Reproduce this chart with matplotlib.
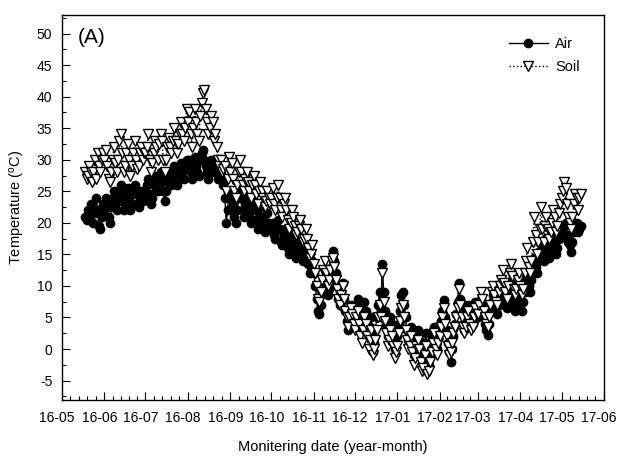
import matplotlib
matplotlib.use("Agg")
import matplotlib.pyplot as plt
import matplotlib.dates as mdates
import matplotlib.transforms as mtransforms
import numpy as np
import pandas as pd

plt.rcParams["font.family"] = ["Liberation Sans", "DejaVu Sans"]
plt.rcParams["mathtext.fontset"] = "custom"
plt.rcParams["mathtext.rm"] = "Liberation Sans"
plt.rcParams["axes.unicode_minus"] = False

start_date = "2016-05-18"

# daily means, month by month
air_may16 = [21, 20.5, 22, 21, 23, 22, 20, 21.5, 24, 22, 19.5, 19, 21, 23]
soil_may16 = [28, 27, 27.5, 29, 28, 26.5, 28, 30, 27, 31, 29, 28, 30, 31]
air_jun = [22, 24, 23, 21, 20, 22.5, 24, 25, 23, 22, 23.5, 25, 26, 24, 22,
           23, 24.5, 25.5, 24, 22, 23, 25, 26, 24.5, 23, 22.5, 24, 25, 23.5, 24]
soil_jun = [30, 31.5, 29, 27, 26.5, 28, 30, 32, 29.5, 28, 30, 33, 34, 31, 28,
            29, 31, 32.5, 30, 27.5, 29, 31, 33, 30, 28.5, 29, 31, 32, 30, 31]
air_jul = [25, 26, 27, 24.5, 23, 24, 26, 27.5, 26, 25, 27, 28, 26.5, 25, 23.5,
           25, 27, 28, 27, 26, 28, 29, 27.5, 26, 27, 28.5, 29.5, 28, 27, 29, 30]
soil_jul = [31, 32, 34, 30, 28, 29.5, 31, 33, 32, 30, 32.5, 34, 33, 30, 28,
            30, 32, 33.5, 32, 31, 33, 35, 33, 31, 32.5, 34, 36, 34, 33, 35, 38]
air_aug = [29, 30, 28, 27, 29.5, 30.5, 29, 28, 27.5, 30, 31, 31.5, 30, 29, 28,
           27, 28.5, 30, 29, 28, 29, 28.5, 27, 28, 29, 27.5, 26, 24, 20, 22, 25]
soil_aug = [36, 37.5, 34, 32, 35, 38, 36, 34, 33, 37, 39, 40.5, 41, 38, 36,
            34, 35, 37, 36, 33, 34, 32, 30, 29, 30, 28, 28.5, 29, 25, 27, 30.5]
air_sep = [24, 25, 23, 21, 20, 22, 24, 25.5, 24, 22, 21, 23, 24, 22.5, 21,
           20, 22, 23.5, 22, 20.5, 19, 21, 22.5, 21, 20, 18.5, 20, 21.5, 20, 19]
soil_sep = [28, 29.5, 27, 25, 24, 26, 28, 30, 28, 26, 25, 27, 28, 26.5, 25,
            24, 26, 27.5, 26, 24.5, 23, 25, 26.5, 25, 24, 22.5, 23.5, 25, 24, 23]
air_oct = [19, 20, 18, 17.5, 19, 20.5, 19, 17, 16.5, 18, 19, 17.5, 16, 15, 16.5,
           18, 17, 15.5, 14.5, 15, 16, 17, 15.5, 14, 15, 16.5, 15, 13.5, 12, 13, 14]
soil_oct = [24, 25.5, 23, 22, 24, 26, 24, 22, 21, 23, 24, 22, 20.5, 19, 20,
            22, 21, 19.5, 18, 18.5, 19.5, 20.5, 19, 17, 17.5, 19, 17.5, 16, 14.5, 15, 16.5]
air_nov = [12, 10, 8, 6, 5.5, 7, 9, 11, 12.5, 10, 8.5, 9.5, 11, 13, 15.5,
           14, 12, 10, 8, 7, 9, 10.5, 8, 6, 4.5, 3, 5, 7, 6, 4]
soil_nov = [13.5, 12, 10, 8, 7.5, 9, 11, 12.5, 14, 12, 10, 11, 12.5, 14, 14.5,
            13, 11, 9.5, 8, 7, 8.5, 10, 8, 6, 5, 3.5, 5, 6.5, 5.5, 4]
air_dec = [5, 7, 8, 6, 4, 3, 5, 7.5, 6, 4, 2, 3.5, 5, -0.5, 1,
           3, 5, 7, 9, 6, 13.5, 9, 6, 4, 2, 3, 5, 4, 2, 0, 1]
soil_dec = [3, 5, 6, 4, 2, 1, 3, 5, 4, 2, 0, 1.5, 3, -1, 0,
            1.5, 3, 5, 7, 5, 12, 7.5, 4.5, 2.5, 0.5, 1.5, 3, 2, 0.5, -1.5, -0.5]
air_jan = [2, 4, 6, 8.5, 9, 7, 5, 3, 1.5, 2, 3.5, 1, -1, 0, 2,
           3, 1.5, -0.5, -2, -1, 1, 2.5, -3.5, -2.5, -1, 0.5, 2, 3.5, 1, 0, 2]
soil_jan = [0.5, 2.5, 4.5, 6.5, 7, 5, 3, 1.5, 0, 0.5, 2, -0.5, -2.5, -1.5, 0.5,
            1.5, 0, -2, -3.5, -3, -1, 0.5, -4, -3.5, -2, -0.5, 1, 2.5, 0, -1, 1]
air_feb = [3, 4.5, 6, 7.8, 5, 3, 1, -0.5, -2, 0, 2, 4, 5.5, 7.4,
           10.5, 8, 6, 4, 3, 4.5, 6, 7, 5, 3.5, 4, 6, 7.5, 6]
soil_feb = [2, 3.5, 5, 6.5, 4, 2, 0.5, -1, -0.5, 1, 2.5, 3.5, 5, 6.5,
            9.5, 7, 5, 3.5, 2.5, 3.5, 5, 6, 4, 3, 3.5, 5, 6.5, 5.5]
air_mar = [5, 6.5, 8, 7, 5, 4, 3, 2.2, 4, 6, 7.5, 8.5, 7, 6, 5.5,
           7, 8, 9, 10, 8, 7, 6.5, 8, 9.5, 10.5, 9, 7.5, 6, 7, 8.5, 9]
soil_mar = [5.5, 7, 9, 8, 6, 5, 4, 3.5, 5, 7, 9, 10, 8.5, 7.5, 7,
            9, 10, 11, 12.5, 10.5, 9, 8, 10, 12, 13.5, 11.5, 9.5, 8.5, 9.5, 11, 12]
air_apr = [8, 6, 7.5, 9, 11, 12, 10, 9, 11, 13, 14.5, 13, 12, 14, 15.5,
           17, 15, 14, 16, 17.5, 16, 14.5, 15, 16.5, 18, 17, 15, 16, 17.5, 18]
soil_apr = [10, 8.5, 9.5, 12, 14, 16, 13, 12, 14, 17, 21, 18, 15, 17, 19,
            22.5, 19, 17, 19.5, 21, 19, 17.5, 18.5, 20, 22, 21, 18.5, 19.5, 21.5, 23]
air_may17 = [19, 18, 19.5, 20, 18, 17, 16.5, 15.3, 17, 18.5, 19, 20, 18.5, 19, 19.5]
soil_may17 = [24, 25, 26.5, 25.5, 23, 21, 20, 19, 21, 23, 24.5, 24, 22, 24, 24.5]

air = (air_may16 + air_jun + air_jul + air_aug + air_sep + air_oct + air_nov
       + air_dec + air_jan + air_feb + air_mar + air_apr + air_may17)
soil = (soil_may16 + soil_jun + soil_jul + soil_aug + soil_sep + soil_oct + soil_nov
        + soil_dec + soil_jan + soil_feb + soil_mar + soil_apr + soil_may17)
dates = pd.date_range(start_date, periods=len(air), freq="D")

fig = plt.figure(figsize=(6.18, 4.59), dpi=100)
ax = fig.add_axes([0.1003, 0.1296, 0.877, 0.8386])

ax.plot(dates, air, color="black", lw=1.0, marker="o", ms=6,
        mfc="black", mec="black", label="Air", zorder=2)
ax.plot(dates, soil, color="black", lw=1.0, ls=":", marker="v", ms=7.5,
        mfc="white", mec="black", mew=1.0, label="Soil", zorder=3)

ax.set_xlim(pd.Timestamp("2016-05-01"), pd.Timestamp("2017-06-01"))
ax.set_ylim(-8, 53)

ax.xaxis.set_major_locator(mdates.MonthLocator())
ax.xaxis.set_major_formatter(mdates.DateFormatter("%y-%m"))
month_starts = pd.date_range("2016-05-01", "2017-06-01", freq="MS")
minor = []
for a, b in zip(month_starts[:-1], month_starts[1:]):
    step = (b - a) / 5
    minor += [a + step * k for k in range(1, 5)]
ax.set_xticks(minor, minor=True)

ax.set_yticks(np.arange(-5, 51, 5))
ax.set_yticks(np.arange(-7.5, 53, 2.5), minor=True)

ax.tick_params(axis="both", which="both", direction="in", top=False, right=False,
               labelsize=10, width=0.8)
ax.tick_params(axis="both", which="major", length=6)
ax.tick_params(axis="both", which="minor", length=3)
ax.tick_params(axis="x", which="major", pad=8)
ax.tick_params(axis="y", which="major", pad=7)
for s in ax.spines.values():
    s.set_linewidth(1.0)

# labels sit a little left of their ticks in the original
shift = mtransforms.ScaledTranslation(-5 / 100, 0, fig.dpi_scale_trans)
for lbl in ax.get_xticklabels():
    lbl.set_transform(lbl.get_transform() + shift)

ax.set_xlabel("Monitering date (year-month)", fontsize=10.5, labelpad=11)
ax.set_ylabel("Temperature ($\\mathregular{^{o}}$C)", fontsize=10.5, labelpad=7)

ax.text(0.03, 0.94, "(A)", transform=ax.transAxes, fontsize=15, va="center")
ax.legend(loc="upper right", frameon=False, fontsize=10.5, handlelength=2.7,
          handletextpad=0.5, labelspacing=0.6, bbox_to_anchor=(0.98, 0.975))

fig.savefig("out.png", dpi=100)
